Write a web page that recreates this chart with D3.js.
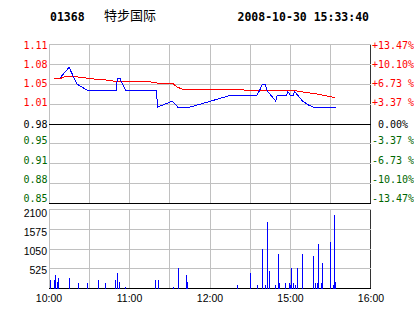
<!DOCTYPE html>
<html>
<head>
<meta charset="utf-8">
<script src="https://cdn.jsdelivr.net/npm/d3@7"></script>
<style>
  body { margin: 0; background: #fff; }
  svg { display: block; }
  text { white-space: pre; }
</style>
</head>
<body>
<svg id="chart" width="414" height="314"></svg>
<script>
const stockCode = '01368';
const stockName = '特步国际';
const stamp = '2008-10-30 15:33:40';
const prevClose = 0.98;
const pctRange = 0.1347;

// price (blue) and average price (red)
const priceTimes = ['10:08','10:15','10:19','10:21','10:27','10:29','10:50','10:51','10:53','10:57',
  '11:20','11:21','11:32','11:36','11:45','12:16','14:35','14:37','14:39','14:41','14:43','14:49',
  '14:50','14:57','14:58','15:00','15:02','15:03','15:06','15:09','15:13','15:17','15:34'];
const priceValues = [1.056,1.074,1.055,1.046,1.038,1.036,1.036,1.056,1.055,1.036,
  1.036,1.008,1.018,1.008,1.008,1.028,1.028,1.036,1.046,1.046,1.034,1.018,
  1.027,1.027,1.034,1.027,1.027,1.034,1.026,1.018,1.012,1.008,1.008];
const avgTimes = ['10:04','10:08','10:12','10:18','10:26','10:32','10:43','10:49','10:57','11:08',
  '11:15','11:21','11:32','11:35','11:40','12:25','12:26','15:03','15:06','15:13','15:19','15:26','15:33'];
const avgValues = [1.055,1.055,1.059,1.059,1.057,1.055,1.053,1.051,1.051,1.050,
  1.050,1.048,1.048,1.042,1.037,1.037,1.036,1.036,1.034,1.032,1.030,1.027,1.024];

// volume bars
const volTimes = ['10:01:07','10:04:06','10:04:51','10:06:20','10:07:05','10:15:17','10:21:59','10:28:42',
  '10:36:54','10:42:07','10:49:34','10:51:03','10:52:33','10:57:01','11:19:23','11:21:37','11:32:48',
  '11:36:31','11:42:29','11:43:14','12:20:30','14:30:11','14:35:24','14:39:08','14:41:22','14:42:51',
  '14:44:21','14:48:49','14:51:04','14:51:48','14:56:16','14:59:15','15:00:00','15:00:45','15:02:14',
  '15:03:44','15:05:13','15:08:57','15:17:08','15:18:38','15:20:07','15:20:52','15:23:06','15:23:51',
  '15:29:49','15:32:03','15:32:48','15:33:32'];
const volValues = [239,239,372,186,266,292,133,133,
  239,133,239,425,160,53,239,239,53,
  558,346,160,80,399,80,1037,80,1781,
  452,80,930,133,133,133,80,532,133,
  80,532,930,851,133,133,1196,133,691,
  1249,106,1967,160];

const timeTicks = ['10:00','11:00','12:00','15:00','16:00'];
const priceTicks = ['1.11','1.08','1.05','1.01','0.98','0.95','0.91','0.88','0.85'];
const pctTicks = ['+13.47%','+10.10%','+6.73 %','+3.37 %',' 0.00%','-3.37 %','-6.73 %','-10.10%','-13.47%'];
const volTicks = ['2100','1575','1050','525'];
const volMax = 2100;

// minutes of trading since 10:00 (lunch 12:30-14:30 removed)
function tradeMin(s) {
  var p = s.split(':').map(Number);
  var m = p[0] * 60 + p[1] + (p[2] || 0) / 60;
  return m <= 750 ? m - 600 : m - 870 + 150;
}

const svg = d3.select('#chart');
const mono = '"DejaVu Sans Mono", monospace';
const sans = '"Liberation Sans", Arial, sans-serif';
const gridColor = '#c0c0c0';
const red = '#ff0000', green = '#006600';

const x = d3.scaleLinear().domain([0, 240]).range([49, 371]);
const py = d3.scaleLinear()
  .domain([prevClose * (1 - pctRange), prevClose * (1 + pctRange)])
  .range([203.5, 44.5]);
const vy = d3.scaleLinear().domain([0, volMax]).range([288.5, 209.5]);
// label rows are spaced a little tighter than the grid
const labelY = d3.scaleLinear().domain([0, priceTicks.length - 1]).range([45, 198.5]);
const volLabelY = d3.scaleLinear().domain([0, volTicks.length - 1]).range([213.3, 270.7]);

const crisp = v => Math.floor(v) + 0.5;

// header
svg.append('text').attr('x', 50).attr('y', 20.5)
  .style('font', 'bold 11.5px ' + mono).text(stockCode);
svg.append('text').attr('x', 104).attr('y', 20)
  .style('font', '13px "Noto Sans CJK SC", sans-serif').text(stockName);
svg.append('text').attr('x', 237.5).attr('y', 20.5)
  .style('font', 'bold 11.5px ' + mono).text(stamp);

// vertical grid for both panels
const vTicks = d3.range(0, 241, 30);
[[py.range()[1], py.range()[0]], [vy.range()[1], vy.range()[0]]].forEach(function(r) {
  svg.append('g').selectAll('line').data(vTicks).enter().append('line')
    .attr('x1', d => crisp(Math.min(x(d), 370)))
    .attr('x2', d => crisp(Math.min(x(d), 370)))
    .attr('y1', r[0]).attr('y2', r[1])
    .attr('stroke', d => d === 240 ? '#333' : gridColor)
    .attr('shape-rendering', 'crispEdges');
});

// price grid
const pGrid = d3.range(9).map(i => py.domain()[1] - i * (py.domain()[1] - py.domain()[0]) / 8);
svg.append('g').selectAll('line').data(pGrid).enter().append('line')
  .attr('x1', x(0)).attr('x2', 371)
  .attr('y1', d => crisp(py(d))).attr('y2', d => crisp(py(d)))
  .attr('stroke', (d, i) => (i === 4 || i === 8) ? '#000' : gridColor)
  .attr('shape-rendering', 'crispEdges');

// volume grid
const vGrid = d3.range(5).map(i => volMax * i / 4);
svg.append('g').selectAll('line').data(vGrid).enter().append('line')
  .attr('x1', x(0)).attr('x2', 371)
  .attr('y1', d => crisp(vy(d))).attr('y2', d => crisp(vy(d)))
  .attr('stroke', d => d === 0 ? '#000' : gridColor)
  .attr('shape-rendering', 'crispEdges');

// price axis labels
const tickColor = i => i < 4 ? red : (i === 4 ? '#000' : green);
const labelPos = i => i === 4 ? py(prevClose) : labelY(i);
svg.append('g').selectAll('text').data(priceTicks).enter().append('text')
  .attr('x', 47.5).attr('y', (d, i) => labelPos(i)).attr('dy', '0.35em')
  .attr('text-anchor', 'end').attr('fill', (d, i) => tickColor(i))
  .style('font', '10px ' + mono).text(d => d);
svg.append('g').selectAll('text').data(pctTicks).enter().append('text')
  .attr('x', 372).attr('y', (d, i) => labelPos(i)).attr('dy', '0.35em')
  .attr('fill', (d, i) => tickColor(i))
  .style('font', '10px ' + mono).text(d => d);

// volume labels
svg.append('g').selectAll('text').data(volTicks).enter().append('text')
  .attr('x', 47).attr('y', (d, i) => volLabelY(i)).attr('dy', '0.35em')
  .attr('text-anchor', 'end')
  .style('font', '10.5px ' + sans).text(d => d);

// time labels
svg.append('g').selectAll('text').data(timeTicks).enter().append('text')
  .attr('x', d => x(tradeMin(d))).attr('y', 301.5)
  .attr('text-anchor', 'middle')
  .style('font', '10.5px ' + sans).text(d => d);

// lines
const line = d3.line().x(d => x(tradeMin(d[0]))).y(d => py(d[1]));
svg.append('path').datum(d3.zip(avgTimes, avgValues))
  .attr('d', line).attr('fill', 'none').attr('stroke', red)
  .attr('stroke-width', 1).attr('shape-rendering', 'crispEdges');
svg.append('path').datum(d3.zip(priceTimes, priceValues))
  .attr('d', line).attr('fill', 'none').attr('stroke', '#0000ff')
  .attr('stroke-width', 1).attr('shape-rendering', 'crispEdges');

// volume bars
svg.append('g').selectAll('rect').data(d3.zip(volTimes, volValues)).enter().append('rect')
  .attr('x', d => Math.floor(x(tradeMin(d[0]))))
  .attr('width', 1)
  .attr('y', d => vy(d[1]))
  .attr('height', d => vy(0) - vy(d[1]))
  .attr('fill', '#0000ff')
  .attr('shape-rendering', 'crispEdges');
</script>
</body>
</html>
